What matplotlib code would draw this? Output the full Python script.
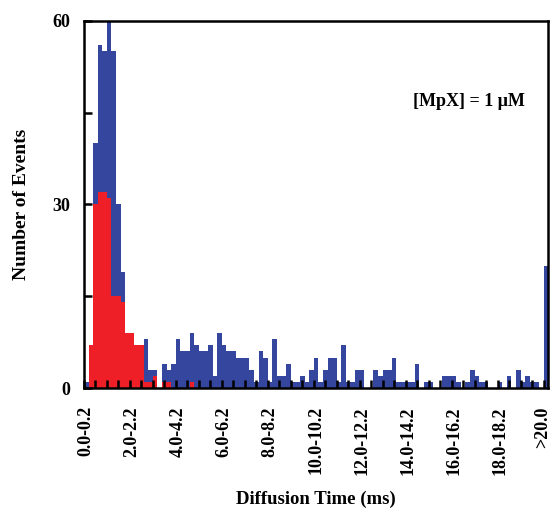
import numpy as np
import matplotlib
matplotlib.use("Agg")
import matplotlib.pyplot as plt
import matplotlib.transforms as mtransforms

# counts per 0.2 ms bin (last bin is >20.0 ms)
blue_counts = [1, 5, 40, 56, 55, 60, 55, 30, 19, 9,
               9, 7, 7, 8, 3, 3, 0, 4, 3, 4,
               8, 6, 6, 9, 7, 6, 6, 7, 2, 9,
               7, 6, 6, 5, 5, 5, 3, 1, 6, 5,
               1, 8, 2, 2, 4, 1, 1, 2, 1, 3,
               5, 1, 3, 5, 5, 1, 7, 1, 1, 3,
               3, 0, 0, 3, 2, 3, 3, 5, 1, 1,
               1, 1, 4, 0, 1, 1, 0, 0, 2, 2,
               2, 1, 0, 1, 3, 2, 1, 1, 0, 0,
               1, 0, 2, 0, 3, 1, 2, 1, 1, 0,
               20]
red_counts = [0, 7, 30, 32, 32, 31, 15, 15, 14, 9,
              9, 7, 7, 1, 1, 2, 0, 1, 1, 0,
              0, 0, 0, 1] + [0] * 77

tick_labels = ["0.0-0.2", "2.0-2.2", "4.0-4.2", "6.0-6.2", "8.0-8.2",
               "10.0-10.2", "12.0-12.2", "14.0-14.2", "16.0-16.2",
               "18.0-18.2", ">20.0"]

blue = "#34469d"
red = "#ee1f26"
font = "Liberation Serif"

fig = plt.figure(figsize=(5.52, 5.08), dpi=100)
ax = fig.add_axes([0.152, 0.236, 0.841, 0.723])

x = np.arange(len(blue_counts))
ax.bar(x, blue_counts, width=1.0, color=blue, linewidth=0)
ax.bar(x, red_counts, width=1.0, color=red, linewidth=0)

ax.set_xlim(-0.5, 100.5)
ax.set_ylim(0, 60)

for s in ax.spines.values():
    s.set_linewidth(1.8)

ax.set_yticks([0, 30, 60])
ax.set_yticks([15, 45], minor=True)
ax.set_yticklabels(["0", "30", "60"], fontfamily=font, fontweight="bold", fontsize=13)
ax.tick_params(axis="y", which="both", direction="in", length=6, width=1.8, pad=10)

ax.set_xticks(np.arange(0, 101, 10))
ax.set_xticklabels(tick_labels, rotation=90, fontfamily=font, fontweight="bold", fontsize=13)
ax.set_xticks(np.arange(-0.5, 100.6, 2.5), minor=True)
ax.tick_params(axis="x", which="major", length=0, pad=13)
ax.tick_params(axis="x", which="minor", direction="in", length=6, width=1.8)

# keep the last label inside the figure edge
last = ax.get_xticklabels()[-1]
last.set_transform(last.get_transform() + mtransforms.ScaledTranslation(-3 / 100, 0, fig.dpi_scale_trans))

ax.set_xlabel("Diffusion Time (ms)", fontfamily=font, fontweight="bold", fontsize=13.5)
ax.xaxis.set_label_coords(0.5, -0.28)
ax.set_ylabel("Number of Events", fontfamily=font, fontweight="bold", fontsize=14, labelpad=16)

ax.text(0.83, 0.78, "[MpX] = 1 \u03bcM", transform=ax.transAxes, ha="center", va="center",
        fontfamily=font, fontweight="bold", fontsize=13)

fig.savefig("out.png", dpi=100)
